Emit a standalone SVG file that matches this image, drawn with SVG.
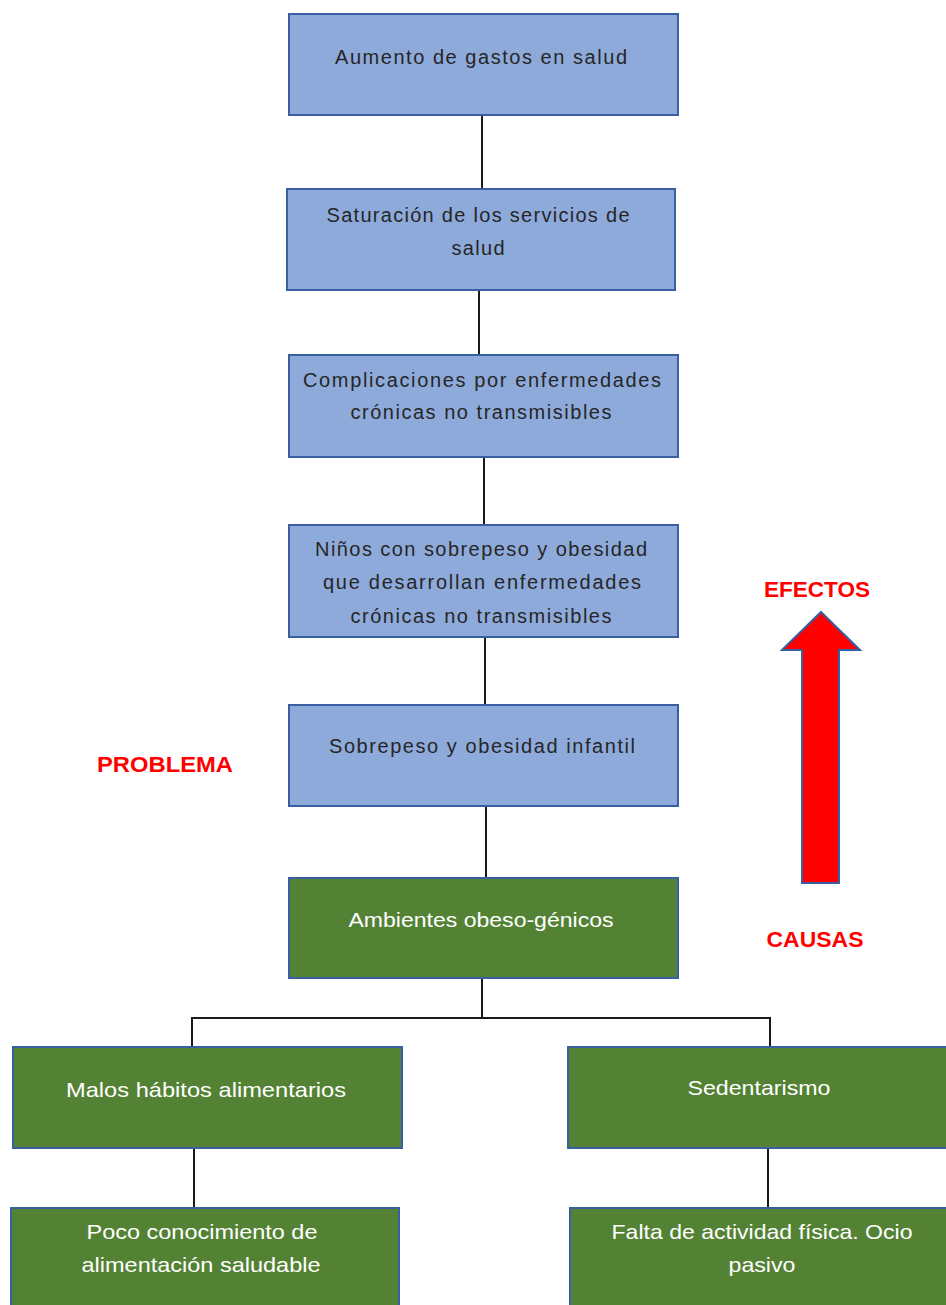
<svg xmlns="http://www.w3.org/2000/svg" width="946" height="1305" viewBox="0 0 946 1305">
<style>
.b{fill:#8EAADB;stroke:#3A5FA0;stroke-width:2}
.g{fill:#548235;stroke:#3A5FA0;stroke-width:2}
.tb{font-family:"Liberation Sans",Arial,sans-serif;font-size:20px;fill:#262626;text-anchor:middle}
.tg{font-family:"Liberation Sans",Arial,sans-serif;font-size:21px;fill:#ffffff;text-anchor:middle}
.red{font-family:"Liberation Sans",Arial,sans-serif;font-size:22px;font-weight:bold;fill:#ff0000;text-anchor:middle}
.c{stroke:#1a1a1a;stroke-width:2;fill:none}
</style>
<rect width="946" height="1305" fill="#ffffff"/>
<g id="connectors">
<line class="c" x1="482" y1="115" x2="482" y2="189"/>
<line class="c" x1="479" y1="290" x2="479" y2="355"/>
<line class="c" x1="484" y1="457" x2="484" y2="525"/>
<line class="c" x1="485" y1="637" x2="485" y2="705"/>
<line class="c" x1="486" y1="806" x2="486" y2="878"/>
<line class="c" x1="482" y1="978" x2="482" y2="1018"/>
<polyline class="c" points="192,1047 192,1018 770,1018 770,1047"/>
<line class="c" x1="194" y1="1148" x2="194" y2="1208"/>
<line class="c" x1="768" y1="1148" x2="768" y2="1208"/>
</g>
<g id="n1"><rect class="b" x="289" y="14" width="389" height="101"/>
<text class="tb" x="481" y="64" textLength="292" lengthAdjust="spacing">Aumento de gastos en salud</text></g>
<g id="n2"><rect class="b" x="287" y="189" width="388" height="101"/>
<text class="tb" x="478" y="222" textLength="303" lengthAdjust="spacing">Saturación de los servicios de</text>
<text class="tb" x="478" y="255" textLength="53" lengthAdjust="spacing">salud</text></g>
<g id="n3"><rect class="b" x="289" y="355" width="389" height="102"/>
<text class="tb" x="482" y="387" textLength="358" lengthAdjust="spacing">Complicaciones por enfermedades</text>
<text class="tb" x="481" y="419" textLength="261" lengthAdjust="spacing">crónicas no transmisibles</text></g>
<g id="n4"><rect class="b" x="289" y="525" width="389" height="112"/>
<text class="tb" x="481" y="556" textLength="332" lengthAdjust="spacing">Niños con sobrepeso y obesidad</text>
<text class="tb" x="482" y="589" textLength="318" lengthAdjust="spacing">que desarrollan enfermedades</text>
<text class="tb" x="481" y="623" textLength="261" lengthAdjust="spacing">crónicas no transmisibles</text></g>
<g id="n5"><rect class="b" x="289" y="705" width="389" height="101"/>
<text class="tb" x="482" y="753" textLength="306" lengthAdjust="spacing">Sobrepeso y obesidad infantil</text></g>
<g id="n6"><rect class="g" x="289" y="878" width="389" height="100"/>
<text class="tg" x="481" y="927" textLength="265" lengthAdjust="spacingAndGlyphs">Ambientes obeso-génicos</text></g>
<g id="n7"><rect class="g" x="13" y="1047" width="389" height="101"/>
<text class="tg" x="206" y="1097" textLength="280" lengthAdjust="spacingAndGlyphs">Malos hábitos alimentarios</text></g>
<g id="n8"><rect class="g" x="568" y="1047" width="390" height="101"/>
<text class="tg" x="759" y="1095" textLength="143" lengthAdjust="spacingAndGlyphs">Sedentarismo</text></g>
<g id="n9"><rect class="g" x="11" y="1208" width="388" height="110"/>
<text class="tg" x="202" y="1239" textLength="231" lengthAdjust="spacingAndGlyphs">Poco conocimiento de</text>
<text class="tg" x="201" y="1272" textLength="239" lengthAdjust="spacingAndGlyphs">alimentación saludable</text></g>
<g id="n10"><rect class="g" x="570" y="1208" width="388" height="110"/>
<text class="tg" x="762" y="1239" textLength="301" lengthAdjust="spacingAndGlyphs">Falta de actividad física. Ocio</text>
<text class="tg" x="762" y="1272" textLength="67" lengthAdjust="spacingAndGlyphs">pasivo</text></g>
<g id="labels">
<text class="red" x="817" y="597" textLength="106" lengthAdjust="spacingAndGlyphs">EFECTOS</text>
<text class="red" x="815" y="947" textLength="97" lengthAdjust="spacingAndGlyphs">CAUSAS</text>
<text class="red" x="165" y="772" textLength="136" lengthAdjust="spacingAndGlyphs">PROBLEMA</text>
</g>
<g id="arrow">
<polygon points="821,612 860,650 839,650 839,883 802,883 802,650 782,650" fill="#ff0000" stroke="#3A5FA0" stroke-width="2" stroke-linejoin="miter"/>
</g>
</svg>
